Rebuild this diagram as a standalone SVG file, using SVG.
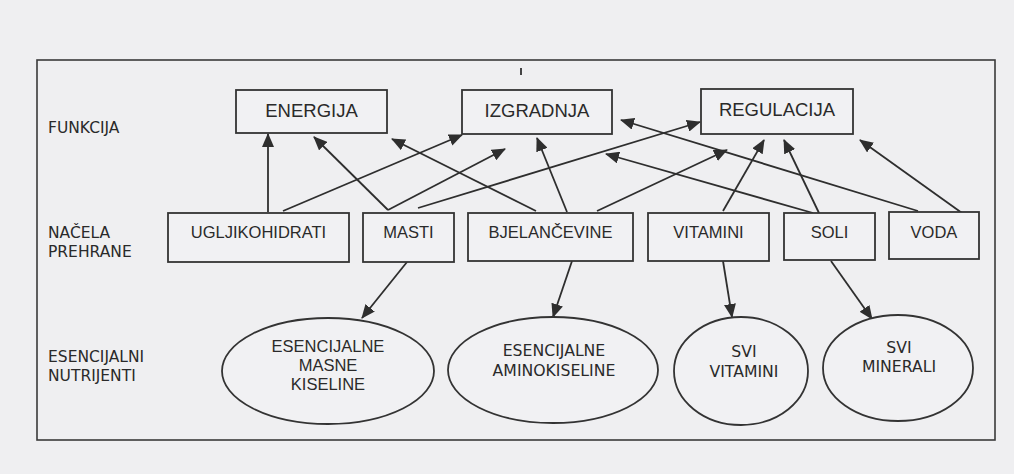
<svg xmlns="http://www.w3.org/2000/svg" width="1014" height="474" viewBox="0 0 1014 474">
<defs>
<style>
.bg{fill:#efeff1}
.frame{fill:none;stroke:#3a3a3a;stroke-width:1.6}
.box{fill:#f1f1f3;stroke:#333;stroke-width:1.8}
.ell{fill:#f1f1f3;stroke:#333;stroke-width:1.8}
.t1{font-family:"Liberation Sans",Arial,sans-serif;font-size:18.5px;fill:#2a2a2a;text-anchor:middle}
.t2{font-family:"Liberation Sans",Arial,sans-serif;font-size:16.5px;fill:#2a2a2a;text-anchor:middle}
.t3{font-family:"DejaVu Sans",Verdana,sans-serif;font-size:15.7px;fill:#2a2a2a;text-anchor:middle}
.lbl{font-family:"DejaVu Sans",Verdana,sans-serif;font-size:15.5px;fill:#2a2a2a}
.edge{stroke:#2e2e2e;stroke-width:1.8;fill:none;marker-end:url(#ah)}
</style>
<marker id="ah" markerUnits="userSpaceOnUse" markerWidth="14" markerHeight="12" refX="13" refY="6" orient="auto">
<path d="M0,0 L14,6 L0,12 z" fill="#2e2e2e"/>
</marker>
</defs>
<rect class="bg" x="0" y="0" width="1014" height="474"/>
<rect class="frame" x="37" y="60" width="958" height="380"/>
<line x1="521" y1="68" x2="521" y2="75" stroke="#444" stroke-width="2"/>

<g id="labels">
<text class="lbl" x="48" y="133">FUNKCIJA</text>
<text class="lbl" x="48" y="238">NAČELA</text>
<text class="lbl" x="48" y="257">PREHRANE</text>
<text class="lbl" x="48" y="362">ESENCIJALNI</text>
<text class="lbl" x="48" y="381">NUTRIJENTI</text>
</g>

<g id="connectors">
<line class="edge" x1="268" y1="212" x2="268" y2="134"/>
<line class="edge" x1="283" y1="211" x2="462" y2="135"/>
<line class="edge" x1="388" y1="210" x2="314" y2="137"/>
<line class="edge" x1="388" y1="210" x2="505" y2="149"/>
<line class="edge" x1="418" y1="208" x2="700" y2="122"/>
<line class="edge" x1="536" y1="211" x2="392" y2="139"/>
<line class="edge" x1="567" y1="212" x2="537" y2="138"/>
<line class="edge" x1="597" y1="211" x2="727" y2="150"/>
<line class="edge" x1="723" y1="211" x2="764" y2="140"/>
<line class="edge" x1="813" y1="213" x2="606" y2="154"/>
<line class="edge" x1="819" y1="213" x2="784" y2="140"/>
<line class="edge" x1="918" y1="211" x2="621" y2="120"/>
<line class="edge" x1="962" y1="213" x2="860" y2="140"/>
<line class="edge" x1="407" y1="262" x2="362" y2="318"/>
<line class="edge" x1="572" y1="261" x2="553" y2="317"/>
<line class="edge" x1="723" y1="261" x2="732" y2="317"/>
<line class="edge" x1="831" y1="261" x2="872" y2="319"/>
</g>

<g id="energija"><rect class="box" x="236" y="90" width="151" height="43"/><text class="t1" x="311.5" y="117">ENERGIJA</text></g>
<g id="izgradnja"><rect class="box" x="462" y="90" width="150" height="44"/><text class="t1" x="537" y="117">IZGRADNJA</text></g>
<g id="regulacija"><rect class="box" x="701" y="89" width="152" height="45"/><text class="t1" x="777" y="116">REGULACIJA</text></g>

<g id="ugljikohidrati"><rect class="box" x="168" y="213" width="181" height="49"/><text class="t2" x="258.5" y="238">UGLJIKOHIDRATI</text></g>
<g id="masti"><rect class="box" x="363" y="213" width="91" height="49"/><text class="t2" x="408.5" y="238">MASTI</text></g>
<g id="bjelancevine"><rect class="box" x="468" y="213" width="165" height="48"/><text class="t2" x="550.5" y="238">BJELANČEVINE</text></g>
<g id="vitamini"><rect class="box" x="648" y="213" width="121" height="48"/><text class="t2" x="708.5" y="238">VITAMINI</text></g>
<g id="soli"><rect class="box" x="784" y="213" width="91" height="47"/><text class="t2" x="829.5" y="238">SOLI</text></g>
<g id="voda"><rect class="box" x="889" y="212" width="90" height="47"/><text class="t2" x="934" y="238">VODA</text></g>

<g id="esencijalne-masne-kiseline"><ellipse class="ell" cx="328" cy="371" rx="106" ry="53"/>
<text class="t2" x="328" y="352">ESENCIJALNE</text><text class="t2" x="328" y="371">MASNE</text><text class="t2" x="328" y="390">KISELINE</text></g>
<g id="esencijalne-aminokiseline"><ellipse class="ell" cx="553" cy="370" rx="105" ry="53"/>
<text class="t3" x="554" y="356">ESENCIJALNE</text><text class="t3" x="554" y="376">AMINOKISELINE</text></g>
<g id="svi-vitamini"><ellipse class="ell" cx="741" cy="371" rx="67" ry="54"/>
<text class="t3" x="744" y="357">SVI</text><text class="t3" x="744" y="377">VITAMINI</text></g>
<g id="svi-minerali"><ellipse class="ell" cx="898" cy="368" rx="75" ry="53"/>
<text class="t3" x="899" y="353">SVI</text><text class="t3" x="899" y="372">MINERALI</text></g>
</svg>
